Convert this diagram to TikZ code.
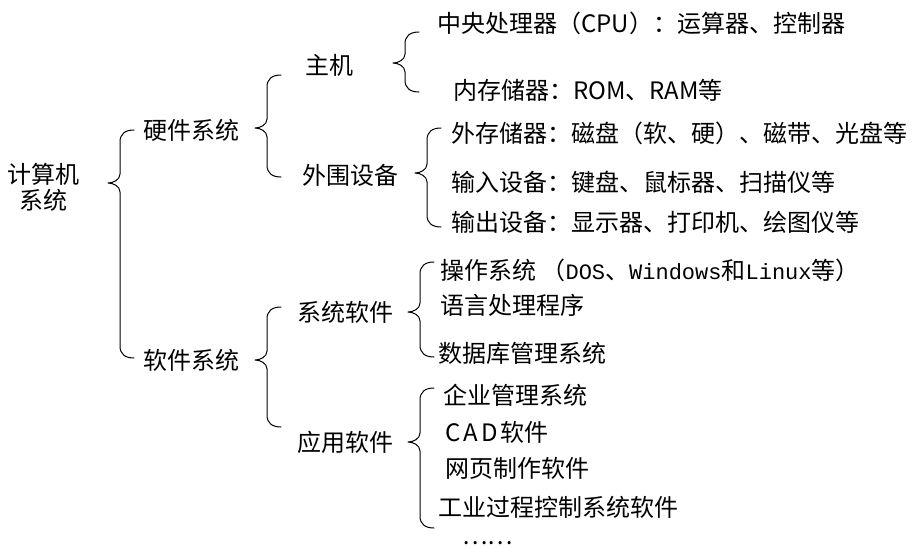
\documentclass[tikz,border=0pt]{standalone}
\usepackage{fontspec}
\setmainfont{Noto Sans CJK SC}
\newfontfamily\latmono{Liberation Mono}
\newcommand\mono[1]{{\latmono\fontsize{22}{24}\selectfont #1}}
\newcommand\cbr[4]{\draw[bracestyle] (#1+14,#2) .. controls (#1+5,#2) and (#1,#2+4) .. (#1,#2+12) -- (#1,#3-9) .. controls (#1,#3-3) and (#1-7,#3) .. (#1-12,#3) .. controls (#1-7,#3) and (#1,#3+3) .. (#1,#3+9) -- (#1,#4-12) .. controls (#1,#4-4) and (#1+5,#4) .. (#1+14,#4);}
\begin{document}
\begin{tikzpicture}[x=1pt,y=-1pt,
  every node/.style={inner sep=0pt, font=\fontsize{24}{26}\selectfont},
  lbl/.style={anchor=west},
  bracestyle/.style={line width=1pt, line cap=round, line join=round}]
\useasboundingbox[fill=white] (0,0) rectangle (918,547);
% level 0
\node[align=center] (root) at (44,187) {计算机\\系统};
% level 1
\node[lbl] (hw) at (143,130) {硬件系统};
\node[lbl] (sw) at (143,360) {软件系统};
% level 2
\node[lbl] (host) at (305,65) {主机};
\node[lbl] (periph) at (302,175) {外围设备};
\node[lbl] (syssw) at (297,312) {系统软件};
\node[lbl] (appsw) at (297,442) {应用软件};
% leaves
\node[lbl] (cpu) at (437,23) {中央处理器（CPU）：运算器、控制器};
\node[lbl] (mem) at (453,90) {内存储器：ROM、RAM等};
\node[lbl] (ext) at (451,133) {外存储器：磁盘（软、硬）、磁带、光盘等};
\node[lbl] (inp) at (451,182) {输入设备：键盘、鼠标器、扫描仪等};
\node[lbl] (outp) at (451,222) {输出设备：显示器、打印机、绘图仪等};
\node[lbl] (os) at (440,270) {操作系统 （\mono{DOS}、\mono{Windows}和\mono{Linux}等）};
\node[lbl] (lang) at (440,305) {语言处理程序};
\node[lbl] (db) at (438,353) {数据库管理系统};
\node[lbl] (ent) at (443,395) {企业管理系统};
\node[lbl] (cad) at (445,432) {C\hspace{3pt}A\hspace{3pt}D\hspace{3pt}软件};
\node[lbl] (web) at (445,468) {网页制作软件};
\node[lbl] (ind) at (438,507) {工业过程控制系统软件};
\node[anchor=base west, text height=3pt, text depth=0pt] (more) at (462,544) {……};
% braces
\cbr{120}{130}{183}{358}
\cbr{267}{75}{128}{177}
\cbr{405}{32}{63}{92}
\cbr{427}{128}{173}{227}
\cbr{420}{262}{312}{357}
\cbr{267}{307}{360}{427}
\cbr{420}{388}{442}{528}
\end{tikzpicture}
\end{document}
